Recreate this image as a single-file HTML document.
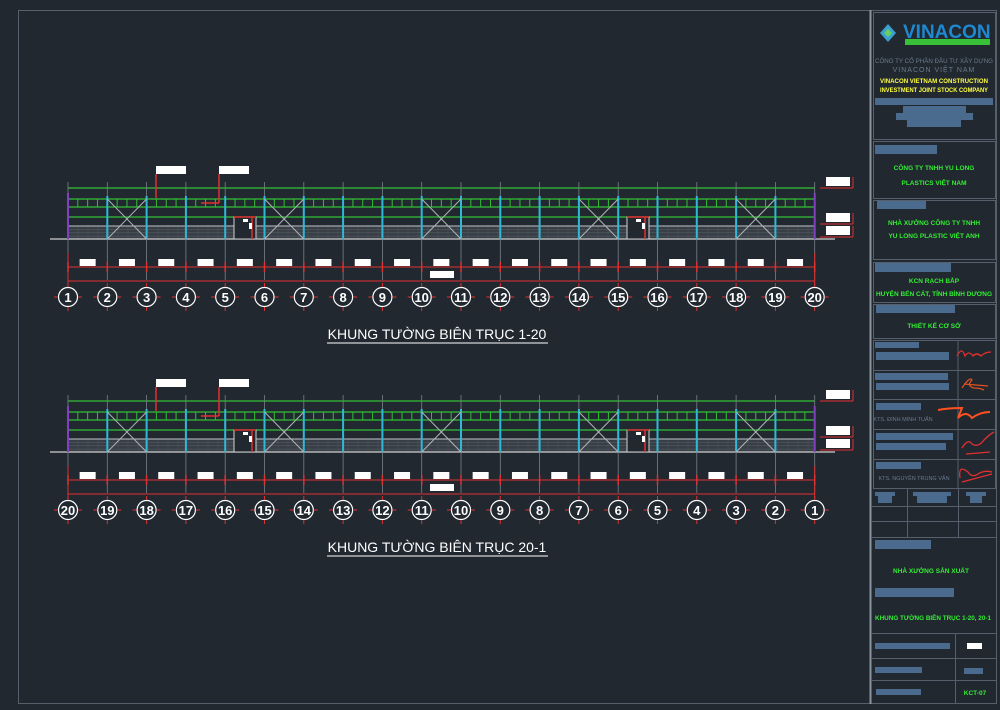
<!DOCTYPE html>
<html><head><meta charset="utf-8"><style>
html,body{margin:0;padding:0;background:#212830;}
svg{display:block;}
text{font-family:"Liberation Sans","DejaVu Sans",sans-serif;}
</style></head><body>
<svg id="s" width="1000" height="710" viewBox="0 0 1000 710" xmlns="http://www.w3.org/2000/svg">
<rect width="1000" height="710" fill="#212830"/>
<g id="g"></g>
<g font-size="13" fill="#ffffff" text-anchor="middle" font-weight="bold">
<g>
<text x="68" y="302">1</text><text x="107.3" y="302">2</text><text x="146.6" y="302">3</text><text x="185.9" y="302">4</text><text x="225.2" y="302">5</text><text x="264.5" y="302">6</text><text x="303.8" y="302">7</text><text x="343.1" y="302">8</text><text x="382.4" y="302">9</text><text x="421.7" y="302">10</text><text x="461" y="302">11</text><text x="500.3" y="302">12</text><text x="539.6" y="302">13</text><text x="578.9" y="302">14</text><text x="618.2" y="302">15</text><text x="657.5" y="302">16</text><text x="696.8" y="302">17</text><text x="736.1" y="302">18</text><text x="775.4" y="302">19</text><text x="814.7" y="302">20</text>
</g>
<g>
<text x="68" y="515">20</text><text x="107.3" y="515">19</text><text x="146.6" y="515">18</text><text x="185.9" y="515">17</text><text x="225.2" y="515">16</text><text x="264.5" y="515">15</text><text x="303.8" y="515">14</text><text x="343.1" y="515">13</text><text x="382.4" y="515">12</text><text x="421.7" y="515">11</text><text x="461" y="515">10</text><text x="500.3" y="515">9</text><text x="539.6" y="515">8</text><text x="578.9" y="515">7</text><text x="618.2" y="515">6</text><text x="657.5" y="515">5</text><text x="696.8" y="515">4</text><text x="736.1" y="515">3</text><text x="775.4" y="515">2</text><text x="814.7" y="515">1</text>
</g>
</g>
<g font-size="14" fill="#ffffff" text-anchor="middle">
<text x="437" y="339">KHUNG TƯỜNG BIÊN TRỤC 1-20</text>
<line x1="327" y1="343" x2="548" y2="343" stroke="#fff" stroke-width="1"/>
<text x="437" y="552">KHUNG TƯỜNG BIÊN TRỤC 20-1</text>
<line x1="327" y1="556" x2="548" y2="556" stroke="#fff" stroke-width="1"/>
</g>
<g fill="none" stroke="#55606c" stroke-width="1">
<rect x="18.5" y="10.5" width="978" height="693"/>
<line x1="870.5" y1="10" x2="870.5" y2="704" stroke="#8a949e" stroke-width="2"/>
<rect x="873.5" y="12.5" width="122" height="127"/>
<rect x="873.5" y="141.5" width="122" height="57"/>
<rect x="873.5" y="200.5" width="122" height="59"/>
<rect x="873.5" y="262.5" width="122" height="40"/>
<rect x="873.5" y="304.5" width="122" height="34"/>
<rect x="873.5" y="340.5" width="122" height="148"/>
<line x1="958" y1="340" x2="958" y2="488"/>
<line x1="873" y1="370.5" x2="996" y2="370.5"/>
<line x1="873" y1="399.5" x2="996" y2="399.5"/>
<line x1="873" y1="429.5" x2="996" y2="429.5"/>
<line x1="873" y1="459.5" x2="996" y2="459.5"/>
<line x1="871" y1="506.5" x2="996" y2="506.5"/>
<line x1="871" y1="521.5" x2="996" y2="521.5"/>
<line x1="871" y1="537.5" x2="996" y2="537.5"/>
<line x1="907.5" y1="488" x2="907.5" y2="537"/>
<line x1="958.5" y1="488" x2="958.5" y2="537"/>
<line x1="871" y1="633.5" x2="996" y2="633.5"/>
<line x1="871" y1="658.5" x2="996" y2="658.5"/>
<line x1="871" y1="680.5" x2="996" y2="680.5"/>
<line x1="955.5" y1="633" x2="955.5" y2="704"/>
</g>
<g fill="#4a6a8e">
<rect x="875" y="98" width="118" height="7"/><rect x="903" y="106" width="63" height="7"/><rect x="896" y="113" width="77" height="7"/><rect x="907" y="120" width="54" height="7"/>
<rect x="875" y="145" width="62" height="9"/>
<rect x="877" y="201" width="49" height="8"/>
<rect x="875" y="263" width="76" height="9"/>
<rect x="876" y="305" width="79" height="8"/>
<rect x="875" y="342" width="44" height="6"/><rect x="876" y="352" width="73" height="8"/>
<rect x="875" y="373" width="73" height="7"/><rect x="876" y="383" width="73" height="7"/>
<rect x="876" y="403" width="45" height="7"/>
<rect x="876" y="433" width="77" height="7"/><rect x="876" y="443" width="70" height="7"/>
<rect x="876" y="462" width="45" height="7"/>
<rect x="875" y="492" width="20" height="4"/><rect x="878" y="496" width="14" height="7"/>
<rect x="913" y="492" width="38" height="4"/><rect x="917" y="496" width="30" height="7"/>
<rect x="966" y="492" width="20" height="4"/><rect x="970" y="496" width="12" height="7"/>
<rect x="875" y="540" width="56" height="9"/>
<rect x="875" y="588" width="79" height="9"/>
<rect x="875" y="643" width="75" height="6"/>
<rect x="875" y="667" width="47" height="6"/>
<rect x="876" y="689" width="45" height="6"/>
<rect x="964" y="668" width="19" height="6"/>
</g>
<rect x="967" y="643" width="15" height="6" fill="#fff"/>
<g>
<polygon points="880,33 888,24 896,33 888,42" fill="#3aa0d0"/>
<polygon points="884,33 888,29 892,33 888,37" fill="#6acf5a"/>
<text x="903" y="38" font-size="19" fill="#1e88d0" font-weight="bold">VINACON</text>
<rect x="905" y="39" width="85" height="6" fill="#38c038"/>
</g>
<g text-anchor="middle">
<text x="934" y="63" font-size="6.5" fill="#6a7a8c" textLength="118" lengthAdjust="spacingAndGlyphs">CÔNG TY CỔ PHẦN ĐẦU TƯ XÂY DỰNG</text>
<text x="934" y="72" font-size="7" fill="#6a7a8c" letter-spacing="1">VINACON VIỆT NAM</text>
<text x="934" y="83" font-size="6" fill="#ffff40" font-weight="bold" textLength="108" lengthAdjust="spacingAndGlyphs">VINACON VIETNAM CONSTRUCTION</text>
<text x="934" y="92" font-size="6" fill="#ffff40" font-weight="bold" textLength="108" lengthAdjust="spacingAndGlyphs">INVESTMENT JOINT STOCK COMPANY</text>
<g fill="#33ee33" font-weight="bold" font-size="6.5">
<text x="934" y="170">CÔNG TY TNHH YU LONG</text>
<text x="934" y="185">PLASTICS VIỆT NAM</text>
<text x="934" y="225">NHÀ XƯỞNG CÔNG TY TNHH</text>
<text x="934" y="238">YU LONG PLASTIC VIỆT ANH</text>
<text x="934" y="283">KCN RẠCH BẮP</text>
<text x="934" y="296" textLength="116" lengthAdjust="spacingAndGlyphs">HUYỆN BẾN CÁT, TỈNH BÌNH DƯƠNG</text>
<text x="934" y="328">THIẾT KẾ CƠ SỞ</text>
<text x="931" y="573">NHÀ XƯỞNG SẢN XUẤT</text>
<text x="933" y="620" textLength="116" lengthAdjust="spacingAndGlyphs">KHUNG TƯỜNG BIÊN TRỤC 1-20, 20-1</text>
<text x="975" y="695">KCT-07</text>
</g>
<text x="903" y="421" font-size="5.5" fill="#6a7a8c">KTS. ĐINH MINH TUẤN</text>
<text x="914" y="480" font-size="5.5" fill="#6a7a8c">KTS. NGUYỄN TRUNG VĂN</text>
</g>
<g fill="none" stroke-width="1.3">
<path d="M957,356 q5,-10 8,0 q4,-6 8,0 q4,-4 8,0 q4,-4 10,-4" stroke="#e03030"/>
<path d="M962,388 q8,-12 10,-8 q-6,6 2,8 q6,0 10,2 M964,384 l24,2" stroke="#e05020"/>
<path d="M938,410 q10,-2 24,-2 l-4,10 q8,-8 14,0 q8,-6 18,-6" stroke="#ff5020" stroke-width="2"/>
<path d="M962,448 q6,-10 10,-4 q6,4 12,-4 q6,-6 10,-8 M966,454 l24,-2" stroke="#e03030"/>
<path d="M960,478 q-2,-14 8,-6 q4,6 10,2 q6,-4 14,-2 M962,482 l30,-8" stroke="#e03030"/>
</g>
</svg>
<script>
var g=document.getElementById('g'),h='';
function L(x1,y1,x2,y2,c,w){h+='<line x1="'+x1+'" y1="'+y1+'" x2="'+x2+'" y2="'+y2+'" stroke="'+c+'" stroke-width="'+(w||1)+'"/>';}
function R(x,y,w,hh,f,s){h+='<rect x="'+x+'" y="'+y+'" width="'+w+'" height="'+hh+'" fill="'+(f||'none')+'" '+(s?'stroke="'+s+'"':'')+'/>';}
var X=[];for(var i=0;i<20;i++)X.push(68+39.3*i);
[0,213].forEach(function(o){
 var x0=68,x1=814.7;
 R(x0,226+o,x1-x0,13,'#383e46');
 for(var y=229.5;y<239;y+=3.3)L(x0,y+o,x1,y+o,'#5a6068',0.5);
 for(var x=x0;x<x1;x+=10)L(x,226+o,x,239+o,'#4e545c',0.5);
 L(x0,226+o,x1,226+o,'#c0c4c8',1);
 L(50,239+o,835,239+o,'#d0d0d0',1.3);
 L(x0,188+o,x1,188+o,'#33c033',1.2);
 L(x0,199+o,x1,199+o,'#33c033',1.2);
 L(x0,207+o,x1,207+o,'#33c033',1.2);
 L(x0,217+o,x1,217+o,'#33c033',1.2);
 for(var i=0;i<19;i++){var a=X[i],b=X[i+1];for(var k=1;k<4;k++)L(a+(b-a)*k/4,199+o,a+(b-a)*k/4,207+o,'#33c033',1);}
 X.forEach(function(x,i){L(x,182+o,x,280+o,'#7a8088',0.8);if(i>0&&i<19)L(x,196+o,x,239+o,'#30b8d8',2);});
 L(x0,193+o,x0,239+o,'#8040c0',2);L(x1,193+o,x1,239+o,'#8040c0',2);
 [1,5,9,13,17].forEach(function(i){var a=X[i],b=X[i+1];L(a,199+o,b,239+o,'#b0b4b8',1);L(b,199+o,a,239+o,'#b0b4b8',1);});
 [234,627].forEach(function(d){R(d,217+o,22,22,'#212830','#d0d0d0');L(d,217+o,d+22,217+o,'#e03030',1.5);L(d+18,217+o,d+18,239+o,'#e03030',1.5);R(d+9,219+o,5,3,'#fff');R(d+15,223+o,3,6,'#fff');});
 L(156,174+o,156,198+o,'#e03030',1.5);L(219,174+o,219,203+o,'#e03030',1.5);L(201,203+o,219,203+o,'#e03030',1.5);
 R(156,166+o,30,8,'#fff');R(219,166+o,30,8,'#fff');
 [[826,177],[826,213],[826,226]].forEach(function(p){R(p[0],p[1]+o,24,9,'#fff');L(p[0]-6,p[1]+11+o,p[0]+27,p[1]+11+o,'#e03030',1);L(p[0]+27,p[1]+o,p[0]+27,p[1]+11+o,'#e03030',1);});
 L(x0,267+o,x1,267+o,'#e03030',1);L(x0,281+o,x1,281+o,'#e03030',1);
 L(x0,253+o,x0,285+o,'#e03030',1);L(x1,253+o,x1,285+o,'#e03030',1);
 X.forEach(function(x){L(x,262+o,x,272+o,'#e03030',1.5);});
 for(var i=0;i<19;i++)R((X[i]+X[i+1])/2-8,259+o,16,7,'#fff');
 R(430,271+o,24,7,'#fff');
 X.forEach(function(x){h+='<circle cx="'+x+'" cy="'+(297+o)+'" r="9.5" fill="none" stroke="#ffffff" stroke-width="1.2"/>';L(x-14,297+o,x-10,297+o,'#e03030',1);L(x+10,297+o,x+14,297+o,'#e03030',1);L(x,283+o,x,287+o,'#e03030',1);L(x,307+o,x,311+o,'#e03030',1);});
});
g.innerHTML=h;
</script>
</body></html>
